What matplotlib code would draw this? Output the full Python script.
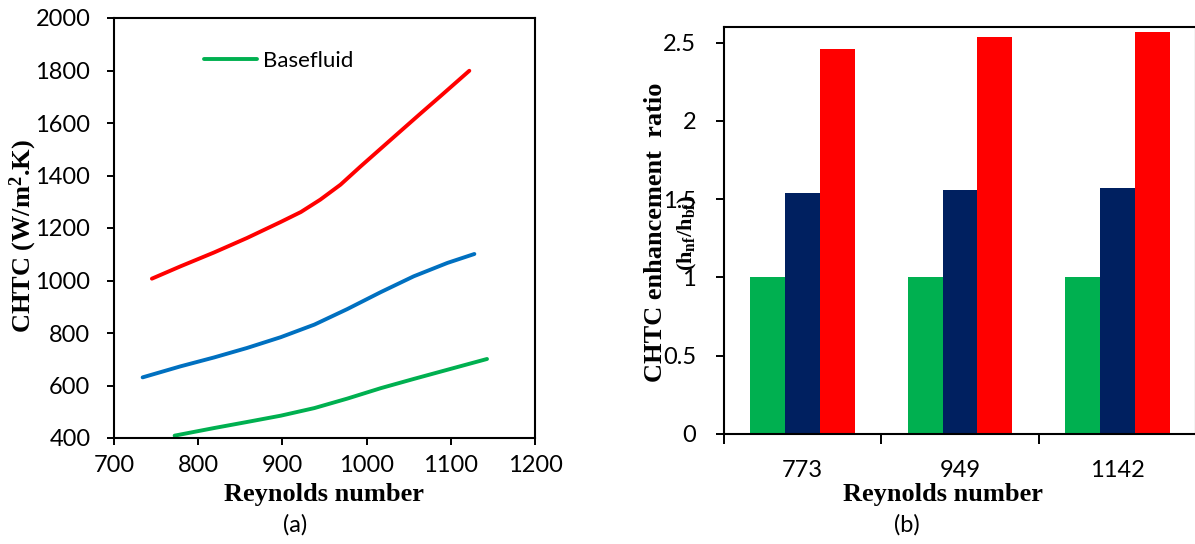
import matplotlib.pyplot as plt
import numpy as np

# (a) CHTC vs Reynolds number
re_red = [745, 779, 819, 858, 898, 922, 945, 969, 993, 1017, 1041, 1064, 1088, 1122]
htc_red = [1007, 1054, 1107, 1162, 1223, 1261, 1308, 1365, 1435, 1503, 1571, 1636, 1703, 1799]
re_blue = [734, 779, 819, 858, 898, 938, 977, 1017, 1056, 1096, 1128]
htc_blue = [631, 673, 707, 743, 784, 832, 891, 956, 1016, 1067, 1101]
re_base = [772, 819, 858, 898, 938, 977, 1017, 1056, 1096, 1143]
htc_base = [409, 438, 461, 485, 514, 550, 590, 625, 660, 701]

# (b) enhancement ratio per Reynolds number
re_labels = ["773", "949", "1142"]
ratio_base = [1.0, 1.0, 1.0]
ratio_blue = [1.542, 1.559, 1.573]
ratio_red = [2.462, 2.533, 2.569]

plt.rcParams["font.family"] = ["Lato", "DejaVu Sans"]
plt.rcParams["mathtext.fontset"] = "custom"
plt.rcParams["mathtext.rm"] = "Liberation Serif:bold"
plt.rcParams["mathtext.bf"] = "Liberation Serif:bold"
plt.rcParams["mathtext.it"] = "Liberation Serif:bold"

GREEN = "#00B050"
BLUE = "#0070C0"
NAVY = "#002060"
RED = "#FF0000"
W, H = 1195, 544

fig = plt.figure(figsize=(W / 100, H / 100), dpi=100)
ax1 = fig.add_axes([114 / W, 1 - 438 / H, (535 - 114) / W, (438 - 18) / H])
ax2 = fig.add_axes([724 / W, 1 - 434 / H, (1196 - 724) / W, (434 - 27) / H])

serif = dict(family="Liberation Serif", weight="bold", fontsize=19)

# ---- panel (a)
ax1.plot(re_red, htc_red, color=RED, lw=2.8, solid_capstyle="round")
ax1.plot(re_blue, htc_blue, color=BLUE, lw=2.8, solid_capstyle="round")
ax1.plot(re_base, htc_base, color=GREEN, lw=2.8, solid_capstyle="round",
         label="Basefluid")
ax1.set_xlim(700, 1200)
ax1.set_ylim(400, 2000)
ax1.set_xticks(range(700, 1201, 100))
ax1.set_yticks(range(400, 2001, 200))
ax1.tick_params(direction="out", length=5, width=1.4, labelsize=17)
ax1.tick_params(axis="y", pad=12)
ax1.tick_params(axis="x", pad=7)
for s in ax1.spines.values():
    s.set_linewidth(1.5)
leg = ax1.legend(loc="center left", bbox_to_anchor=(204 / W, 1 - 61 / H),
                 bbox_transform=fig.transFigure, frameon=False, fontsize=16,
                 handlelength=2.4, handletextpad=0.25, borderpad=0,
                 borderaxespad=0)
fig.text(23 / W, 1 - 236 / H, r"CHTC (W/m$^{2}$.K)", rotation=90,
         ha="center", va="center", **serif)
fig.text(324 / W, 1 - 494 / H, "Reynolds number", ha="center", va="center",
         **serif)
fig.text(295 / W, 1 - 525 / H, "(a)", ha="center", va="center", fontsize=17)

# ---- panel (b)
x = np.arange(len(re_labels)) + 0.5
bw = 0.222
ax2.bar(x - bw, ratio_base, bw, color=GREEN)
ax2.bar(x, ratio_blue, bw, color=NAVY)
ax2.bar(x + bw, ratio_red, bw, color=RED)
ax2.set_xlim(0, 3)
ax2.set_ylim(0, 2.6)
ax2.set_xticks([0, 1, 2, 3])
ax2.set_xticklabels([])
ax2.set_xticks(x, minor=True)
ax2.set_xticklabels(re_labels, minor=True)
ax2.tick_params(axis="x", which="major", direction="out", length=7, width=1.4)
ax2.tick_params(axis="x", which="minor", length=0, pad=19, labelsize=17)
ax2.set_yticks([0, 0.5, 1, 1.5, 2, 2.5])
ax2.set_yticklabels(["0", "0.5", "1", "1.5", "2", "2.5"])
ax2.tick_params(axis="y", direction="out", length=6, width=1.4, pad=14,
                labelsize=17)
for s in ax2.spines.values():
    s.set_linewidth(1.5)
fig.text(655 / W, 1 - 232 / H, "CHTC enhancement  ratio", rotation=90,
         ha="center", va="center", **serif)
fig.text(687 / W, 1 - 233 / H, r"(h$_{nf}$/h$_{bf}$)", rotation=90,
         ha="center", va="center", family="Liberation Serif", weight="bold",
         fontsize=16)
fig.text(943 / W, 1 - 494 / H, "Reynolds number", ha="center", va="center",
         **serif)
fig.text(907 / W, 1 - 525 / H, "(b)", ha="center", va="center", fontsize=17)

fig.savefig("out.png", dpi=100)
